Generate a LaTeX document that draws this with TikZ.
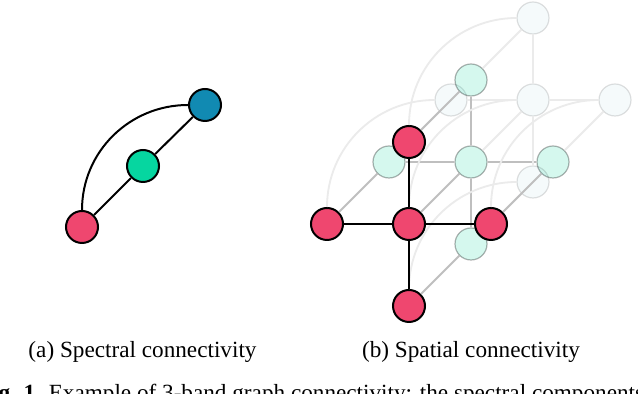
\documentclass[tikz,border=0pt]{standalone}
\usepackage{fontspec}
\setmainfont{Liberation Serif}
\usetikzlibrary{positioning}

\begin{document}
\begin{tikzpicture}[x=0.5pt, y=-0.5pt, font=\fontsize{11.6}{14}\selectfont,
    vertex/.style={circle, draw=black, line width=1pt, minimum size=16pt, inner sep=0pt},
    midvertex/.style={vertex, fill=band2, fill opacity=0.17, draw opacity=0.3, line width=0.6pt},
    backvertex/.style={vertex, fill=band3, fill opacity=0.04, draw opacity=0.12, line width=0.6pt},
    link/.style={line width=1pt, black},
    midlink/.style={line width=0.9pt, black!25},
    backlink/.style={line width=0.9pt, black!8}]
  \definecolor{band1}{HTML}{EF476F}
  \definecolor{band2}{HTML}{06D6A0}
  \definecolor{band3}{HTML}{118AB2}
  \useasboundingbox[fill=white] (0,0) rectangle (638,394);

  % (a) spectral
  \node[vertex, fill=band1] (s1) at (82,227) {};
  \node[vertex, fill=band2] (s2) at (143,166) {};
  \node[vertex, fill=band3] (s3) at (205,105) {};
  \draw[link] (s1) -- (s2) -- (s3);
  \draw[link] (s1) to[out=90, in=180] (s3);

  % (b) spatial: back and middle bands
  \foreach \n/\x/\y in {c/409/224, l/327/224, r/491/224, t/409/142, b/409/306} {
    \node[backvertex] (k\n) at (\x+124,\y-124) {};
    \node[midvertex] (m\n) at (\x+62,\y-62) {};
  }
  \foreach \n in {l,r,t,b} {
    \draw[backlink] (kc) -- (k\n);
    \draw[midlink] (mc) -- (m\n);
  }
  \foreach \n in {c,l,r,t,b}
    \draw[backlink] (m\n) -- (k\n);

  % front band
  \foreach \n/\x/\y in {c/409/224, l/327/224, r/491/224, t/409/142, b/409/306}
    \node[vertex, fill=band1] (f\n) at (\x,\y) {};
  \foreach \n in {c,l,r,t,b} {
    \draw[midlink] (f\n) -- (m\n);
    \draw[backlink] (f\n) to[out=90, in=180] (k\n);
  }
  \foreach \n in {l,r,t,b}
    \draw[link] (fc) -- (f\n);

  \node[anchor=base] (capa) at (142.5,357.7) {(a) Spectral connectivity};
  \node[anchor=base] (capb) at (471,357.7) {(b) Spatial connectivity};
  \node[anchor=base west, inner sep=0pt] (fig) at (-22.5,401)
    {\textbf{Fig. 1.} Example of 3-band graph connectivity: the spectral components};
\end{tikzpicture}
\end{document}
